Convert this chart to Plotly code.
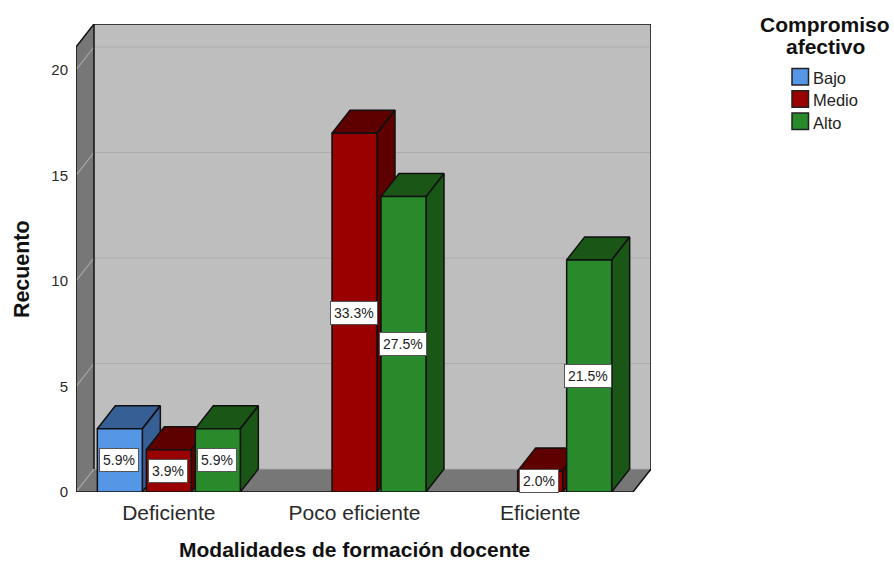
import plotly.graph_objects as go

categories = ["Deficiente", "Poco eficiente", "Eficiente"]
bajo = [3, None, None]
medio = [2, 17, 1]
alto = [3, 14, 11]
bajo_pct = ["5.9%", None, None]
medio_pct = ["3.9%", "33.3%", "2.0%"]
alto_pct = ["5.9%", "27.5%", "21.5%"]
y_ticks = [0, 5, 10, 15, 20]

series = [
    ("Bajo", bajo, bajo_pct, "#5596E6", "#365F96"),
    ("Medio", medio, medio_pct, "#990000", "#5E0000"),
    ("Alto", alto, alto_pct, "#298A2B", "#1A5716"),
]

W, H = 894, 563
L, R, T, B = 76, 651, 24, 492
cat_px = 185.67
unit_px = 21.1
depth_x = 18 / cat_px
depth_y = 23 / unit_px
x0, x1 = -0.5, 2.5
y_top = (B - T) / unit_px
slot = 49 / cat_px
bar_w = 45 / cat_px

INK = "#111111"
fig = go.Figure()

# faces seen from above and from the side: left to right, beneath the front faces
for s, (name, vals, pcts, col, dark) in enumerate(series):
    for c, v in enumerate(vals):
        if v is None:
            continue
        xa = c + (s - 1) * slot - bar_w / 2
        xb = xa + bar_w
        fig.add_trace(go.Scatter(
            x=[xa, xb, xb + depth_x, xa + depth_x, xa, None, xb, xb + depth_x, xb + depth_x, xb, xb],
            y=[v, v, v + depth_y, v + depth_y, v, None, v, v + depth_y, depth_y, 0, v],
            mode="lines", fill="toself", fillcolor=dark,
            line=dict(color=INK, width=1.5), hoverinfo="skip", showlegend=False,
        ))

# front faces on an overlaid pair of axes
for name, vals, pcts, col, dark in series:
    fig.add_trace(go.Bar(
        x=list(range(len(categories))), y=vals, name=name, xaxis="x2", yaxis="y2",
        marker=dict(color=col, line=dict(color=INK, width=1.5)), showlegend=False,
    ))

shapes = []
def poly(xs, ys, fill):
    path = "M" + "L".join(f"{a},{b}" for a, b in zip(xs, ys)) + "Z"
    shapes.append(dict(type="path", path=path, xref="x", yref="y", fillcolor=fill,
                       line=dict(width=0), layer="below"))
def seg(xa, ya, xb, yb, color, width):
    shapes.append(dict(type="line", x0=xa, y0=ya, x1=xb, y1=yb, xref="x", yref="y",
                       line=dict(color=color, width=width), layer="below"))

xr = x1 + depth_x
wall_top = y_top - depth_y
poly([x0 + depth_x, xr, xr, x0 + depth_x], [depth_y, depth_y, y_top, y_top], "#BEBEBE")
poly([x0, x0 + depth_x, x0 + depth_x, x0], [0, depth_y, y_top, wall_top], "#777777")
poly([x0, x1, xr, x0 + depth_x], [0, 0, depth_y, depth_y], "#777777")
for t in y_ticks:
    seg(x0 + depth_x, t + depth_y, xr, t + depth_y, "#ABABAB", 1.2)
    seg(x0, t, x0 + depth_x, t + depth_y, "#A8A8A8", 1.2)
seg(x0 + depth_x, depth_y, x0 + depth_x, y_top, INK, 1.5)
seg(x0 + depth_x, y_top, xr, y_top, INK, 1.5)
seg(xr, y_top, xr, depth_y, INK, 1.5)
seg(xr, depth_y, x1, 0, INK, 1.5)
seg(x0, 0, x1, 0, INK, 1.5)
seg(x0, 0, x0, wall_top, INK, 1.5)
seg(x0, wall_top, x0 + depth_x, y_top, INK, 1.5)

annotations = []
# percentage labels
for s, (name, vals, pcts, col, dark) in enumerate(series):
    for c, (v, p) in enumerate(zip(vals, pcts)):
        if v is None:
            continue
        annotations.append(dict(
            x=c + (s - 1) * slot, y=v / 2, xref="x", yref="y", text=p, showarrow=False,
            xshift=-1, font=dict(family="Liberation Sans", size=14, color="#222222"),
            bgcolor="#FFFFFF", bordercolor="#555555", borderwidth=1, borderpad=3,
        ))

def paper_x(px):
    return (px - L) / (R - L)
def paper_y(py):
    return (B - py) / (B - T)

# axis titles, centred where the reference has them
annotations.append(dict(
    x=paper_x(354), y=paper_y(549), xref="paper", yref="paper", showarrow=False,
    xanchor="center", yanchor="middle", text="<b>Modalidades de formación docente</b>",
    font=dict(family="Liberation Sans", size=21, color="#111111"),
))
annotations.append(dict(
    x=paper_x(22), y=paper_y(270), xref="paper", yref="paper", showarrow=False,
    xanchor="center", yanchor="middle", textangle=-90, text="<b>Recuento</b>",
    font=dict(family="Liberation Sans", size=21.4, color="#111111"),
))

# legend, placed by page pixels
for text, py in (("Compromiso", 25), ("afectivo", 46)):
    annotations.append(dict(
        x=paper_x(825), y=paper_y(py), xref="paper", yref="paper", showarrow=False,
        xanchor="center", yanchor="middle", text=f"<b>{text}</b>",
        font=dict(family="Liberation Sans", size=21, color="#111111"),
    ))
for i, (name, vals, pcts, col, dark) in enumerate(series):
    top = 68.5 + 22.3 * i
    shapes.append(dict(type="rect", xref="paper", yref="paper",
                       x0=paper_x(792), x1=paper_x(808.5), y0=paper_y(top), y1=paper_y(top + 16.5),
                       fillcolor=col, line=dict(color="#222222", width=1.5)))
    annotations.append(dict(
        x=paper_x(811), y=paper_y(top + 9.5), xref="paper", yref="paper", text=name,
        showarrow=False, xanchor="left", yanchor="middle",
        font=dict(family="Liberation Sans", size=16.5, color="#222222"),
    ))

axis_common = dict(showgrid=False, zeroline=False, showline=False, ticks="", automargin=False)
fig.update_layout(
    width=W, height=H, autosize=False,
    margin=dict(l=L, r=W - R, t=T, b=H - B, pad=0),
    paper_bgcolor="#FFFFFF", plot_bgcolor="#FFFFFF",
    barmode="group", bargap=1 - 3 * slot, bargroupgap=4 / 49,
    showlegend=False, shapes=shapes, annotations=annotations,
    xaxis=dict(range=[x0, xr], tickmode="array", tickvals=list(range(len(categories))),
               ticktext=categories, ticklabelstandoff=6,
               tickfont=dict(family="Liberation Sans", size=21, color="#2A2A2A"),
               **axis_common),
    yaxis=dict(range=[0, y_top], tickmode="array", tickvals=y_ticks, ticklabelstandoff=7,
               tickfont=dict(family="Liberation Sans", size=15, color="#2A2A2A"),
               **axis_common),
    xaxis2=dict(range=[x0, xr], overlaying="x", visible=False),
    yaxis2=dict(range=[0, y_top], overlaying="y", visible=False),
)

fig.write_html("out.html", post_script="document.body.style.margin='0';",
               config={"displayModeBar": False})
